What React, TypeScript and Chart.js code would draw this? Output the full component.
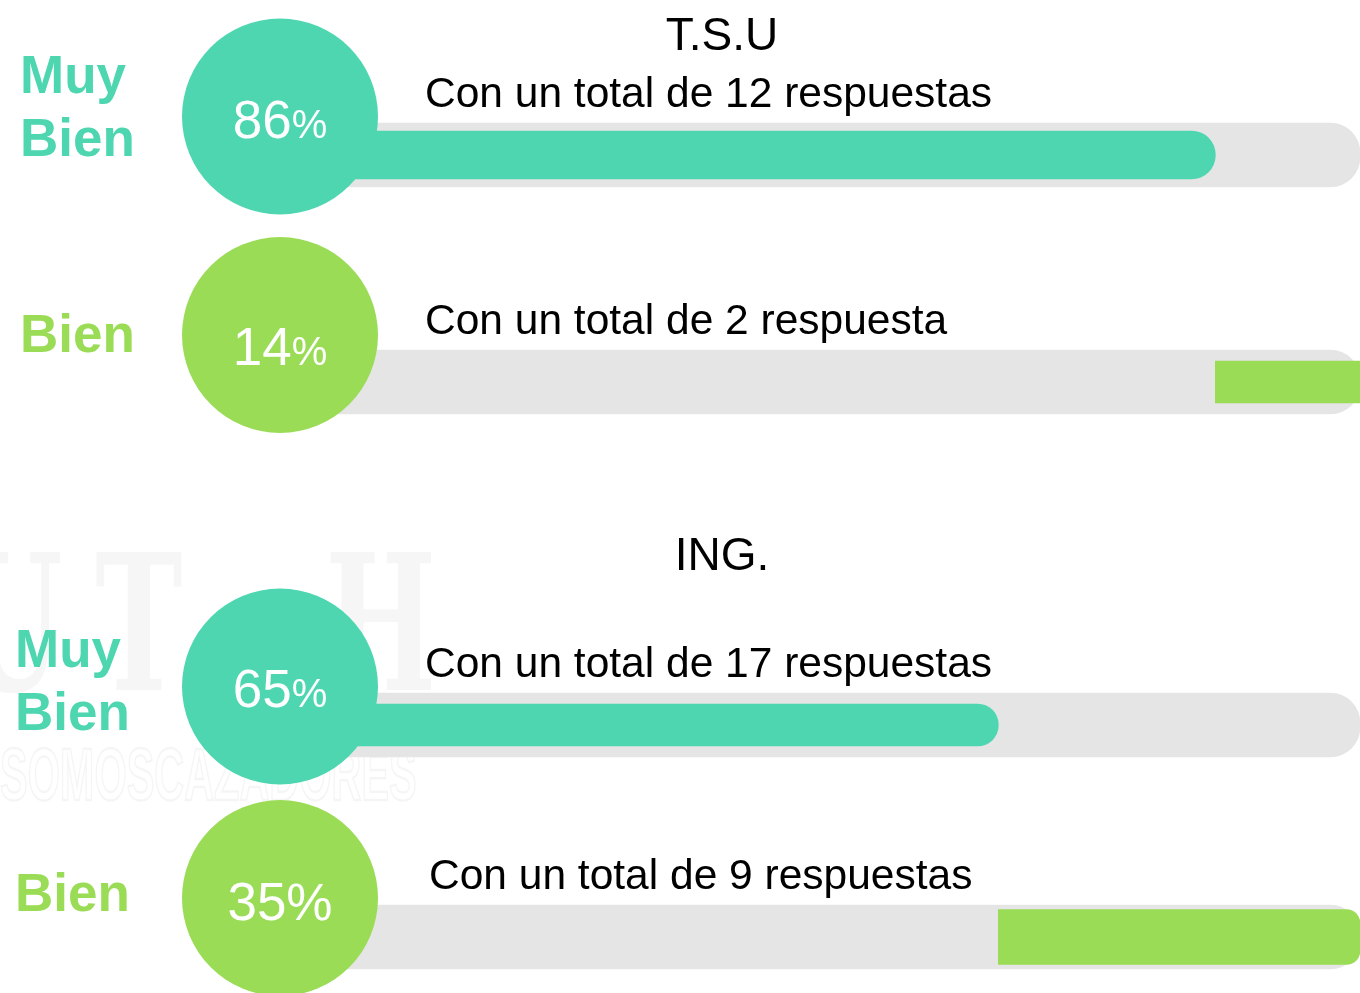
import React, { useEffect, useRef } from "react";
import { Chart, registerables } from "chart.js";

Chart.register(...registerables);

// ---------- data ----------
const categories = ["Muy Bien", "Bien"];
const groupTitles = ["T.S.U", "ING."];
const tsuPercents = [86, 14];
const ingPercents = [65, 35];
const tsuNotes = ["Con un total de 12 respuestas", "Con un total de 2 respuesta"];
const ingNotes = ["Con un total de 17 respuestas", "Con un total de 9 respuestas"];
const trackRange = [0, 100];

// ---------- styles / layout ----------
const TEAL = "#4DD6B0";
const GREEN = "#9BDC57";
const TRACK = "#E5E5E5";
const FONT = '"Liberation Sans", Arial, Helvetica, sans-serif';
const CANVAS_W = 1360;
const X_MIN = -14;
const X_MAX = 100;
const BADGE_R = 98;
const AXIS_RIGHT = 182;

const layouts = [
  {
    top: 0,
    height: 497,
    yMin: -155 / 227,
    yMax: (497 - 155) / 227,
    padLeft: 20,
    labelOffset: -45,
    tealThickness: 48,
    greenThickness: 42,
    greenRadius: 0,
    badgeDy: [-38.5, -47],
    pctDy: [21.5, 30],
    signSize: [40, 40],
    noteX: [425, 425],
    titleBaseline: 50,
    watermark: false,
  },
  {
    top: 497,
    height: 496,
    yMin: -228 / 212,
    yMax: (496 - 228) / 212,
    padLeft: 15,
    labelOffset: -41,
    tealThickness: 42,
    greenThickness: 55,
    greenRadius: 14,
    badgeDy: [-38.5, -39],
    pctDy: [20.5, 22],
    signSize: [40, 52],
    noteX: [425, 429],
    titleBaseline: 73,
    watermark: true,
  },
];

function drawWatermark(ctx: CanvasRenderingContext2D) {
  ctx.save();
  ctx.fillStyle = "rgba(0,0,0,0.035)";
  ctx.strokeStyle = "rgba(0,0,0,0.04)";
  ctx.textBaseline = "alphabetic";
  ctx.font = `bold 190px "DejaVu Serif", serif`;
  const base = 193;
  const letters: [string, number][] = [
    ["U", -40],
    ["T", 95],
    ["H", 325],
  ];
  letters.forEach(([ch, x]) => {
    ctx.save();
    ctx.translate(x, base);
    ctx.scale(0.62, 1);
    ctx.fillText(ch, 0, 0);
    ctx.restore();
  });
  ctx.font = `bold 74px ${FONT}`;
  ctx.save();
  ctx.translate(0, 303);
  ctx.scale(0.56, 1);
  ctx.lineWidth = 2.5;
  ctx.strokeText("SOMOSCAZADORES", 0, 0);
  ctx.restore();
  ctx.restore();
}

function makeChart(canvas: HTMLCanvasElement, gi: number) {
  const L = layouts[gi];
  const pcts = gi === 0 ? tsuPercents : ingPercents;
  const notes = gi === 0 ? tsuNotes : ingNotes;
  const rows = categories.map((_, i) => i);
  const rowColors = [TEAL, GREEN];

  const overlay = {
    id: "overlay" + gi,
    beforeDraw(chart: any) {
      if (L.watermark) drawWatermark(chart.ctx);
    },
    afterDatasetsDraw(chart: any) {
      const ctx: CanvasRenderingContext2D = chart.ctx;
      const area = chart.chartArea;
      const trackMeta = chart.getDatasetMeta(2);
      ctx.save();
      ctx.fillStyle = "#000";
      ctx.textBaseline = "alphabetic";
      ctx.textAlign = "center";
      ctx.font = `46px ${FONT}`;
      ctx.fillText(groupTitles[gi], 722, L.titleBaseline);
      rows.forEach((i) => {
        const el = trackMeta.data[i];
        if (!el) return;
        const cy = el.y;
        // note text
        ctx.fillStyle = "#000";
        ctx.textAlign = "left";
        ctx.font = `42.5px ${FONT}`;
        ctx.fillText(notes[i], L.noteX[i], cy - 48);
        // badge
        const bx = area.left + BADGE_R;
        const by = cy + L.badgeDy[i];
        ctx.fillStyle = rowColors[i];
        ctx.beginPath();
        ctx.arc(bx, by, BADGE_R, 0, Math.PI * 2);
        ctx.fill();
        // percentage
        const digits = String(pcts[i]);
        ctx.font = `53px ${FONT}`;
        const wD = ctx.measureText(digits).width;
        ctx.font = `${L.signSize[i]}px ${FONT}`;
        const wS = ctx.measureText("%").width;
        const x0 = bx - (wD + wS) / 2;
        const base = by + L.pctDy[i];
        ctx.fillStyle = "#fff";
        ctx.font = `53px ${FONT}`;
        ctx.fillText(digits, x0, base);
        ctx.font = `${L.signSize[i]}px ${FONT}`;
        ctx.fillText("%", x0 + wD, base);
      });
      ctx.restore();
    },
  };

  return new Chart(canvas, {
    type: "bar",
    data: {
      datasets: [
        {
          label: categories[0],
          data: [{ y: 0, x: [0, pcts[0]] }] as any,
          backgroundColor: TEAL,
          barThickness: L.tealThickness,
          borderRadius: 40,
          borderSkipped: "start",
          grouped: false,
        },
        {
          label: categories[1],
          data: [{ y: 1, x: [trackRange[1] - pcts[1], trackRange[1]] }] as any,
          backgroundColor: GREEN,
          barThickness: L.greenThickness,
          borderRadius: L.greenRadius,
          borderSkipped: "start",
          grouped: false,
        },
        {
          label: "track",
          data: rows.map((r) => ({ y: r, x: [trackRange[0], trackRange[1]] })) as any,
          backgroundColor: TRACK,
          barThickness: 64,
          borderRadius: 30,
          borderSkipped: "start",
          grouped: false,
        },
      ],
    },
    options: {
      indexAxis: "y",
      responsive: false,
      maintainAspectRatio: false,
      animation: false,
      events: [],
      layout: { padding: { left: L.padLeft, right: 0, top: 0, bottom: 0 } },
      plugins: {
        legend: { display: false },
        tooltip: { enabled: false },
        title: { display: false },
      },
      scales: {
        x: {
          type: "linear",
          min: X_MIN,
          max: X_MAX,
          offset: false,
          display: false,
        },
        y: {
          type: "linear",
          reverse: true,
          offset: false,
          min: L.yMin,
          max: L.yMax,
          grid: { display: false, offset: false },
          border: { display: false },
          afterBuildTicks: (axis: any) => {
            axis.ticks = rows.map((v) => ({ value: v }));
          },
          afterFit: (axis: any) => {
            axis.width = AXIS_RIGHT - L.padLeft;
            axis.paddingTop = 0;
            axis.paddingBottom = 0;
          },
          ticks: {
            autoSkip: false,
            padding: 0,
            crossAlign: "far",
            labelOffset: L.labelOffset,
            font: { family: FONT, size: 53, weight: "bold", lineHeight: 1.2 },
            color: (c: any) => rowColors[c.index] ?? TEAL,
            callback: (_v: any, idx: number) => (categories[idx] ? categories[idx].split(" ") : ""),
          },
        },
      },
    },
    plugins: [overlay],
  } as any);
}

function GroupChart({ gi }: { gi: number }) {
  const ref = useRef<HTMLCanvasElement>(null);
  const L = layouts[gi];
  useEffect(() => {
    if (!ref.current) return;
    const chart = makeChart(ref.current, gi);
    return () => chart.destroy();
  }, [gi]);
  return (
    <canvas
      ref={ref}
      width={CANVAS_W}
      height={L.height}
      style={{ position: "absolute", left: 0, top: L.top, width: CANVAS_W, height: L.height }}
    />
  );
}

export default function App() {
  return (
    <div
      style={{
        position: "fixed",
        left: 0,
        top: 0,
        width: 1360,
        height: 993,
        overflow: "hidden",
        background: "#ffffff",
      }}
    >
      <GroupChart gi={0} />
      <GroupChart gi={1} />
    </div>
  );
}
